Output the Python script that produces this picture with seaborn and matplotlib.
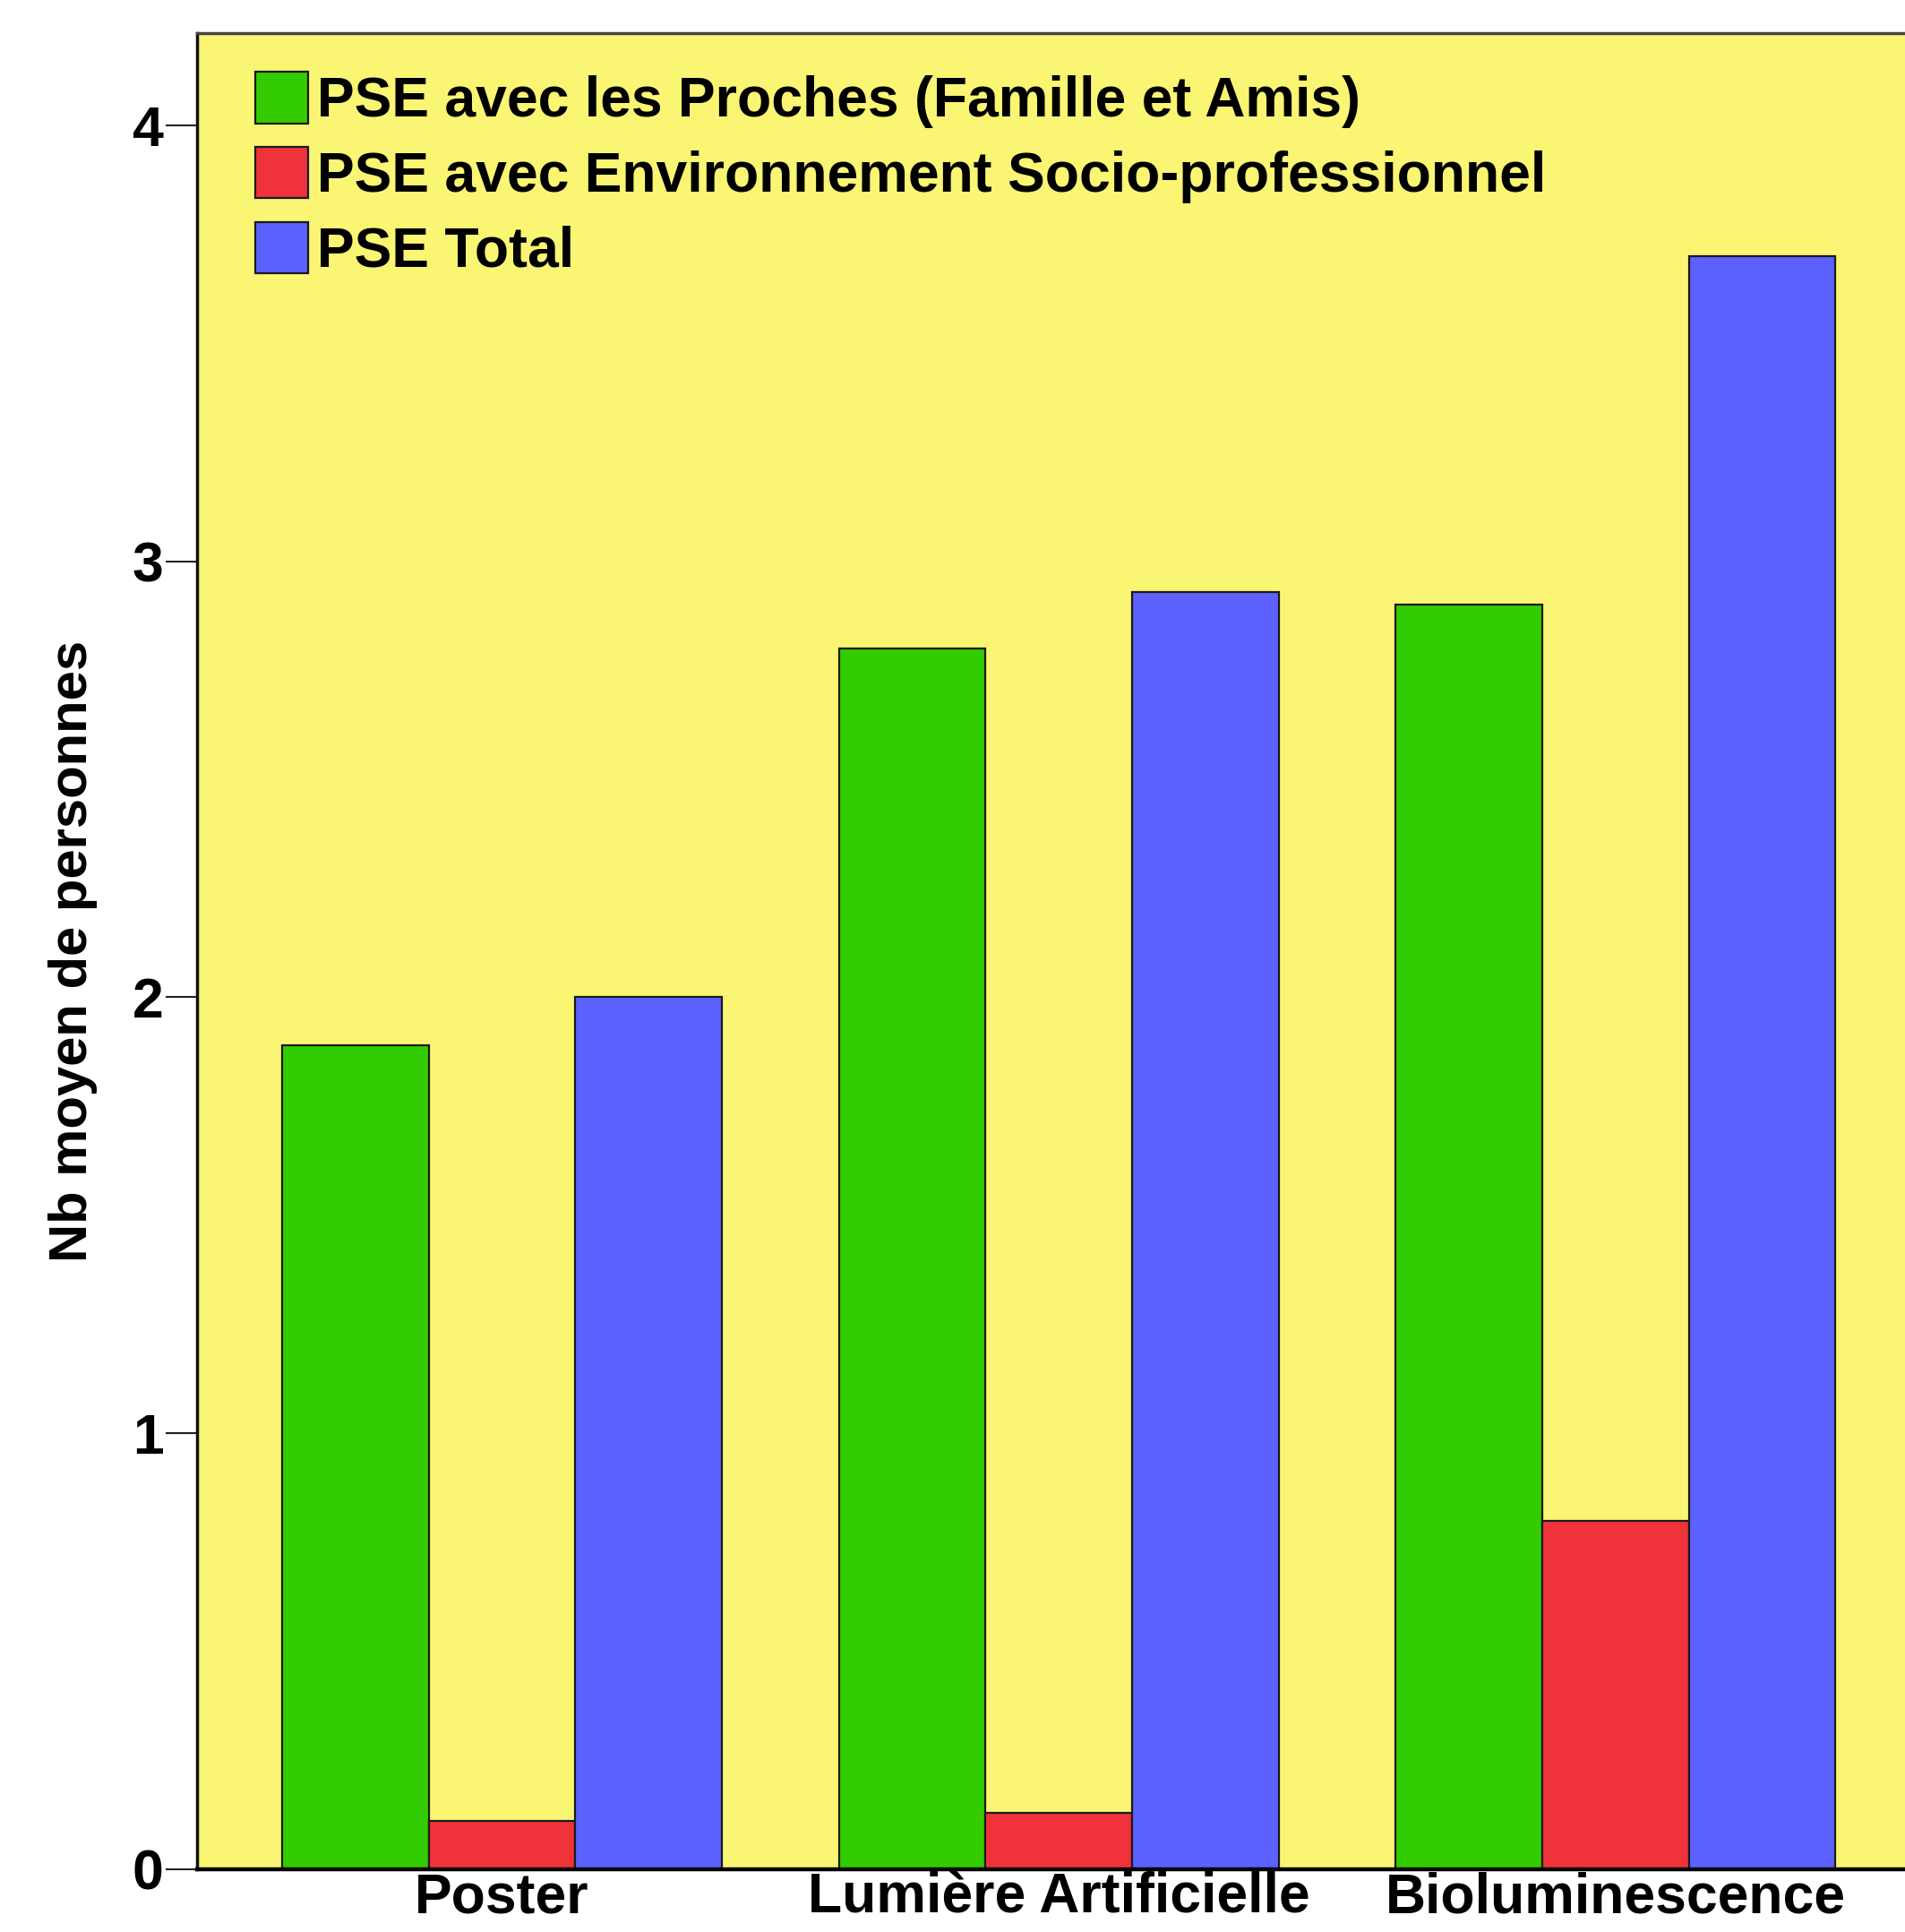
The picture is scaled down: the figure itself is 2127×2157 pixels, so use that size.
import pandas as pd
import numpy as np
import seaborn as sns
import matplotlib
matplotlib.use('Agg')
import matplotlib.pyplot as plt

# Data
conditions = ['Poster', 'Lumière Artificielle', 'Bioluminescence']
series = ['PSE avec les Proches (Famille et Amis)',
          'PSE avec Environnement Socio-professionnel',
          'PSE Total']
proches = [1.89, 2.80, 2.90]
socio_pro = [0.11, 0.13, 0.80]
total = [2.00, 2.93, 3.70]
y_ticks = [0, 1, 2, 3, 4]

colors = ['#33CC00', '#F0323A', '#5C61FF']

df = pd.DataFrame({
    'condition': conditions * 3,
    'serie': [series[0]] * 3 + [series[1]] * 3 + [series[2]] * 3,
    'valeur': proches + socio_pro + total,
})

sns.set_style('white')
plt.rcParams['font.family'] = ['Liberation Sans', 'DejaVu Sans']
plt.rcParams['font.weight'] = 'bold'
for key in ['text.color', 'axes.labelcolor', 'xtick.color', 'ytick.color']:
    plt.rcParams[key] = 'black'

W, H = 2127, 2157
fig = plt.figure(figsize=(W / 100, H / 100), dpi=100)
ax = fig.add_axes([220 / W, 70 / H, (W - 220) / W, 2050 / H])
ax.set_facecolor('#FAF573')

sns.barplot(data=df, x='condition', y='valeur', hue='serie',
            order=conditions, hue_order=series, palette=colors,
            saturation=1, width=0.79, gap=0, edgecolor='#1a1a1a',
            linewidth=1.6, errorbar=None, ax=ax)

ax.set_xlim(-0.548, 2.52)
ax.set_ylim(0, 4.211)
ax.set_yticks(y_ticks)
ax.set_yticklabels([str(t) for t in y_ticks])
ax.set_xlabel('')
ax.set_ylabel('Nb moyen de personnes', fontsize=43, fontweight='bold', color='black')
ax.yaxis.set_label_coords(-0.058, 0.5)

ax.tick_params(axis='y', length=25, width=1.5, pad=2, labelsize=45,
               direction='out', color='#222222', labelcolor='black', left=True)
ax.tick_params(axis='x', length=0, pad=2, labelsize=45, labelcolor='black')
for lab in ax.get_xticklabels() + ax.get_yticklabels():
    lab.set_fontweight('bold')

for side in ['left', 'bottom', 'top']:
    ax.spines[side].set_visible(True)
    ax.spines[side].set_linewidth(2.5)
ax.spines['left'].set_color('#111111')
ax.spines['bottom'].set_color('#000000')
ax.spines['bottom'].set_linewidth(3.2)
ax.spines['top'].set_color('#444444')
ax.spines['right'].set_visible(False)

handles, labels = ax.get_legend_handles_labels()
leg = ax.legend(handles, labels, loc='upper left',
                bbox_to_anchor=(285 / W, 1 - 80 / H), bbox_transform=fig.transFigure,
                frameon=False, handlelength=0.94, handleheight=1.04,
                handletextpad=0.16, labelspacing=0.33, borderpad=0, borderaxespad=0,
                prop={'weight': 'bold', 'size': 45})
for t in leg.get_texts():
    t.set_color('black')

fig.savefig('out.png', dpi=100)
